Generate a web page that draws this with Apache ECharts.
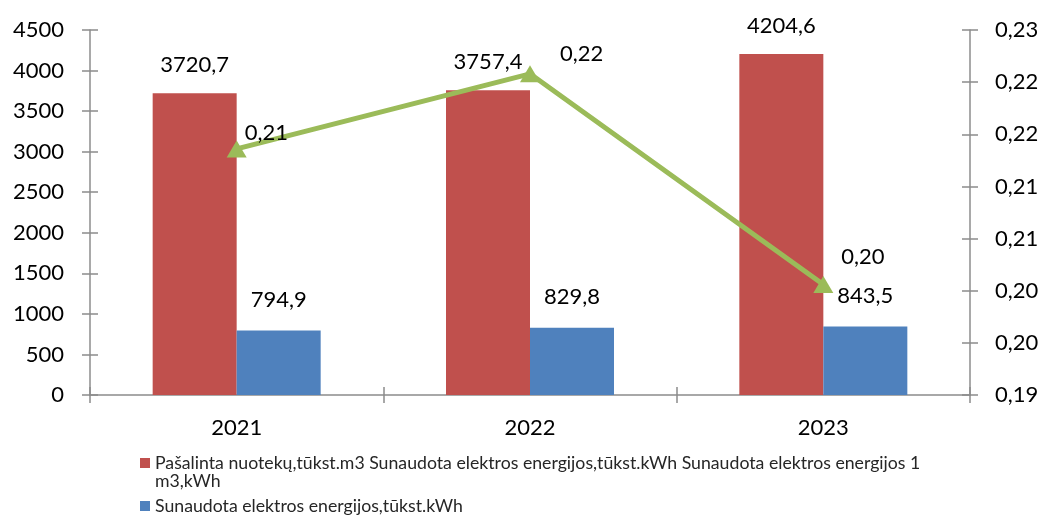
<!DOCTYPE html>
<html><head><meta charset="utf-8">
<script src="https://cdn.jsdelivr.net/npm/echarts@6/dist/echarts.min.js"></script>
<style>html,body{margin:0;padding:0;background:#fff}#c{width:1044px;height:515px}</style>
</head><body><div id="c"></div>
<script>
var categories = ['2021', '2022', '2023'];
var removedWater = [3720.7, 3757.4, 4204.6];
var energyUsed = [794.9, 829.8, 843.5];
var energyPerM3 = [0.2136, 0.2208, 0.2006];
var nameRed = 'Pašalinta nuotekų,tūkst.m3 Sunaudota elektros energijos,tūkst.kWh Sunaudota elektros energijos 1 m3,kWh';
var nameRedLine1 = 'Pašalinta nuotekų,tūkst.m3 Sunaudota elektros energijos,tūkst.kWh Sunaudota elektros energijos 1';
var nameRedLine2 = 'm3,kWh';
var nameBlue = 'Sunaudota elektros energijos,tūkst.kWh';
var nameLine = 'Sunaudota elektros energijos 1 m3,kWh';

var FONT = 'Lato';
var LEG_FS = 17.7;
var axisColor = '#8c8c8c';
function comma(v, d) { return (Math.round(v * Math.pow(10, d) + 1e-9) / Math.pow(10, d)).toFixed(d).replace('.', ','); }

var lineLabelOffsets = [[-10, -16], [12, -20], [0, -28]];

var chart = echarts.init(document.getElementById('c'), null, {renderer: 'canvas'});
var baseTick = {show: true, length: 8, lineStyle: {color: axisColor, width: 1.5}};
var legendText = {fontFamily: FONT, fontSize: LEG_FS, color: '#262626'};
chart.setOption({
  animation: false,
  textStyle: {fontFamily: FONT},
  grid: {left: 90, right: 74, top: 30, bottom: 120},
  legend: [{
    data: [nameRed], left: 135, top: 449, itemWidth: 10, itemHeight: 10, icon: 'rect', itemGap: 6,
    formatter: function () { return nameRedLine1; },
    textStyle: legendText
  }, {
    data: [nameBlue], left: 135, top: 492, itemWidth: 10, itemHeight: 10, icon: 'rect', itemGap: 6,
    textStyle: legendText
  }],
  graphic: [{
    type: 'text', left: 155, top: 472,
    style: {text: nameRedLine2, font: LEG_FS + 'px ' + FONT, fill: '#262626'}
  }],
  xAxis: [{
    type: 'category', data: categories,
    axisLine: {lineStyle: {color: axisColor, width: 1.5}},
    axisTick: Object.assign({}, baseTick, {inside: false}),
    axisLabel: {fontSize: 22, color: '#000', margin: 22, fontFamily: FONT},
    splitLine: {show: false}
  }, {
    type: 'category', data: categories, position: 'bottom', offset: 0,
    axisLine: {show: false}, axisTick: Object.assign({}, baseTick, {inside: true}),
    axisLabel: {show: false}
  }],
  yAxis: [{
    type: 'value', min: 0, max: 4500, interval: 500, position: 'left',
    axisLine: {show: true, lineStyle: {color: axisColor, width: 1.5}},
    axisTick: Object.assign({}, baseTick, {inside: false}),
    axisLabel: {fontSize: 22, color: '#000', margin: 26, fontFamily: FONT, formatter: function (v) { return String(v); }},
    splitLine: {show: false}
  }, {
    type: 'value', min: 0.19, max: 0.225, interval: 0.005, position: 'right',
    axisLine: {show: true, lineStyle: {color: axisColor, width: 1.5}},
    axisTick: Object.assign({}, baseTick, {inside: false}),
    axisLabel: {fontSize: 22, color: '#000', margin: 25, fontFamily: FONT, formatter: function (v) { return comma(v, 2); }},
    splitLine: {show: false}
  }, {
    type: 'value', min: 0, max: 4500, interval: 500, position: 'left', offset: 0,
    axisLine: {show: false}, axisTick: Object.assign({}, baseTick, {inside: true}),
    axisLabel: {show: false}, splitLine: {show: false}
  }, {
    type: 'value', min: 0.19, max: 0.225, interval: 0.005, position: 'right', offset: 0,
    axisLine: {show: false}, axisTick: Object.assign({}, baseTick, {inside: true}),
    axisLabel: {show: false}, splitLine: {show: false}
  }],
  series: [{
    name: nameRed, type: 'bar', data: removedWater, barWidth: 84, barGap: '0%',
    itemStyle: {color: '#C0504D'},
    label: {show: true, position: 'top', distance: 17, fontSize: 22, color: '#000', fontFamily: FONT,
      formatter: function (p) { return comma(p.value, 1); }}
  }, {
    name: nameBlue, type: 'bar', data: energyUsed, barWidth: 84, barGap: '0%',
    itemStyle: {color: '#4F81BD'},
    label: {show: true, position: 'top', distance: 20, fontSize: 22, color: '#000', fontFamily: FONT,
      formatter: function (p) { return comma(p.value, 1); }}
  }, {
    name: nameLine, type: 'line', yAxisIndex: 1,
    data: energyPerM3.map(function (v, i) { return {value: v, label: {offset: lineLabelOffsets[i]}}; }),
    symbol: 'triangle', symbolSize: [20, 17],
    lineStyle: {color: '#9BBB59', width: 5}, itemStyle: {color: '#9BBB59'},
    label: {show: true, position: 'right', distance: 8, fontSize: 22, color: '#000', fontFamily: FONT,
      formatter: function (p) { return comma(p.value, 2); }},
    z: 5
  }]
});
</script></body></html>
